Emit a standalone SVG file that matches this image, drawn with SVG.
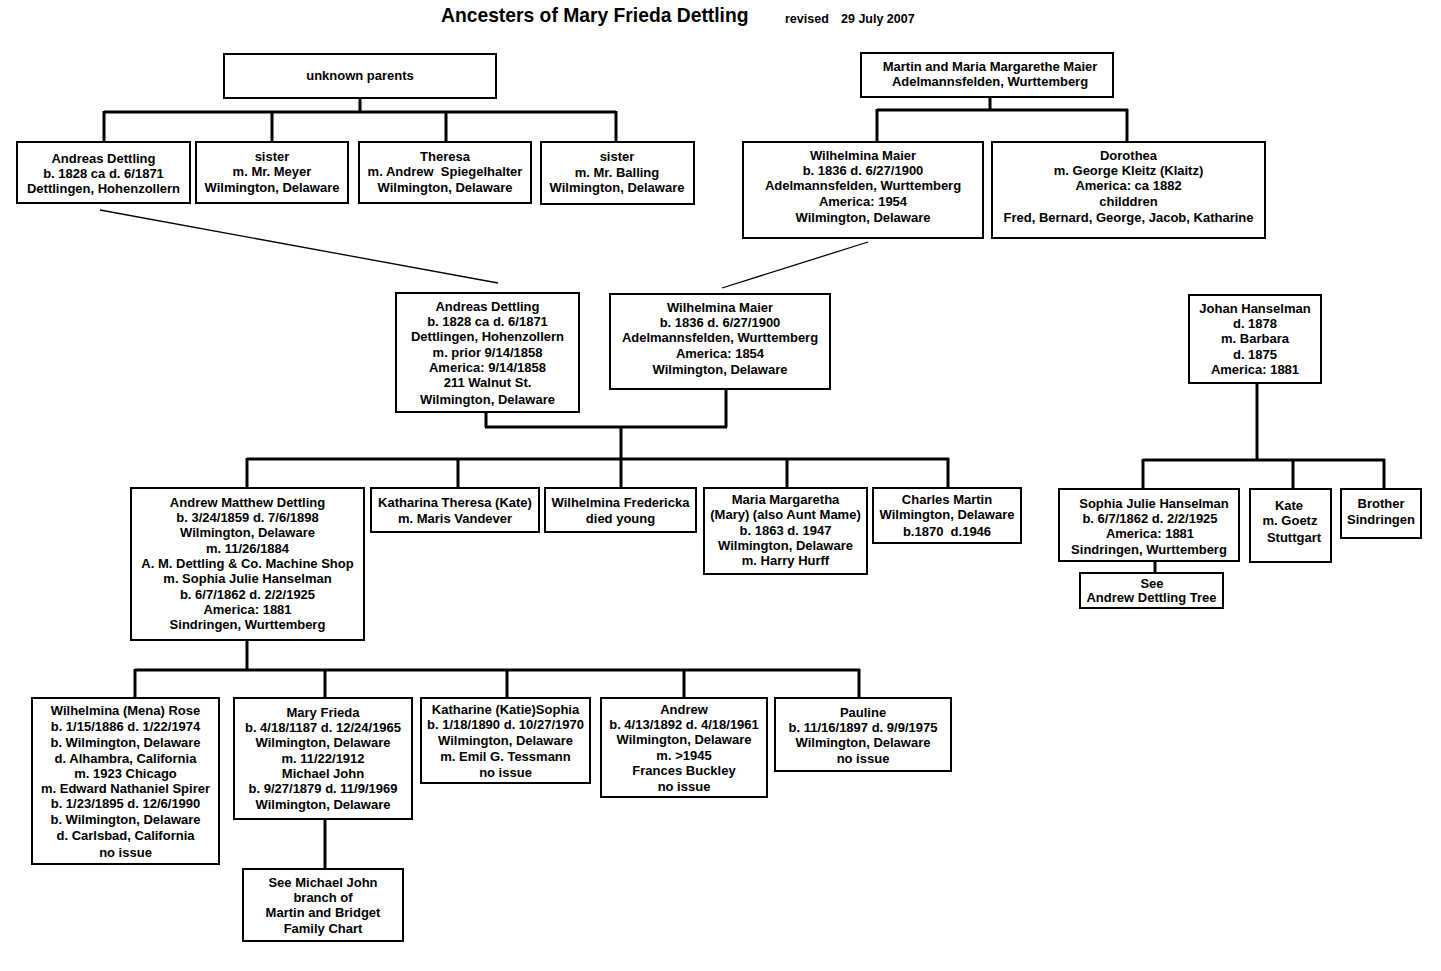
<svg xmlns="http://www.w3.org/2000/svg" width="1441" height="971" viewBox="0 0 1441 971">
<style>
.box{fill:#fff;stroke:#000;stroke-width:2}
.t{font-family:"Liberation Sans",Arial,sans-serif;font-weight:bold;font-size:13px;text-anchor:middle;fill:#000}
.c{fill:none;stroke:#000;stroke-width:3}
.d{fill:none;stroke:#000;stroke-width:1.3}
</style>
<defs>
<clipPath id="clipSophia"><rect x="1060" y="490" width="178" height="70"/></clipPath>
</defs>
<rect width="1441" height="971" fill="#fff"/>
<text x="441" y="22" style="font-family:'Liberation Sans',Arial,sans-serif;font-weight:bold;font-size:19.3px">Ancesters of Mary Frieda Dettling</text>
<text x="785" y="23" style="font-family:'Liberation Sans',Arial,sans-serif;font-weight:bold;font-size:12.5px">revised</text>
<text x="841" y="23" style="font-family:'Liberation Sans',Arial,sans-serif;font-weight:bold;font-size:12.5px">29 July 2007</text>

<g id="connectors">
<path class="c" d="M360 98V112M104 112H616M104 111V142M272 111V142M446 111V142M616 111V142"/>
<path class="c" d="M990 97V110M877 110H1128M877 109V142M1127 109V142"/>
<path class="d" d="M100 210L498 283"/>
<path class="d" d="M868 242L722 288"/>
<path class="c" d="M486 412V427M726 389V427M485 427H727M621 427V459M247 459H949M247 458V488M458 458V488M621 458V488M787 458V488M948 458V488"/>
<path class="c" d="M247 640V670M135 670H860M135 669V698M325 669V698M507 669V698M684 669V698M859 669V698"/>
<path class="c" d="M325 819V869"/>
<path class="c" d="M1257 383V460M1143 460H1385M1143 459V489M1293 459V489M1384 459V489"/>
<path class="c" d="M1155 561V573"/>
</g>

<g id="unknown-parents"><rect class="box" x="224" y="54" width="272" height="44"/><text class="t" x="360" y="80">unknown parents</text></g>
<g id="martin-maria"><rect class="box" x="861" y="53" width="252" height="44"/><text class="t" x="990" y="71">Martin and Maria Margarethe Maier</text><text class="t" x="990" y="86">Adelmannsfelden, Wurttemberg</text></g>

<g id="andreas-top"><rect class="box" x="17" y="142" width="173" height="61"/><text class="t" x="103.5" y="163">Andreas Dettling</text><text class="t" x="103.5" y="178">b. 1828 ca d. 6/1871</text><text class="t" x="103.5" y="193">Dettlingen, Hohenzollern</text></g>
<g id="sister-meyer"><rect class="box" x="196" y="142" width="152" height="61"/><text class="t" x="272" y="161">sister</text><text class="t" x="272" y="176">m. Mr. Meyer</text><text class="t" x="272" y="192">Wilmington, Delaware</text></g>
<g id="theresa"><rect class="box" x="359" y="142" width="172" height="61"/><text class="t" x="445" y="161">Theresa</text><text class="t" x="445" y="176" xml:space="preserve">m. Andrew  Spiegelhalter</text><text class="t" x="445" y="192">Wilmington, Delaware</text></g>
<g id="sister-balling"><rect class="box" x="541" y="142" width="153" height="62"/><text class="t" x="617" y="161">sister</text><text class="t" x="617" y="177">m. Mr. Balling</text><text class="t" x="617" y="192">Wilmington, Delaware</text></g>

<g id="wilhelmina-top"><rect class="box" x="743" y="142" width="240" height="96"/><text class="t" x="863" y="160">Wilhelmina Maier</text><text class="t" x="863" y="175">b. 1836 d. 6/27/1900</text><text class="t" x="863" y="190">Adelmannsfelden, Wurttemberg</text><text class="t" x="863" y="206">America: 1954</text><text class="t" x="863" y="222">Wilmington, Delaware</text></g>
<g id="dorothea"><rect class="box" x="992" y="142" width="273" height="96"/><text class="t" x="1128.5" y="160">Dorothea</text><text class="t" x="1128.5" y="175">m. George Kleitz (Klaitz)</text><text class="t" x="1128.5" y="190">America: ca 1882</text><text class="t" x="1128.5" y="206">childdren</text><text class="t" x="1128.5" y="222">Fred, Bernard, George, Jacob, Katharine</text></g>

<g id="andreas-mid"><rect class="box" x="396" y="293" width="183" height="119"/><text class="t" x="487.5" y="311">Andreas Dettling</text><text class="t" x="487.5" y="326">b. 1828 ca d. 6/1871</text><text class="t" x="487.5" y="341">Dettlingen, Hohenzollern</text><text class="t" x="487.5" y="357">m. prior 9/14/1858</text><text class="t" x="487.5" y="372">America: 9/14/1858</text><text class="t" x="487.5" y="387">211 Walnut St.</text><text class="t" x="487.5" y="404">Wilmington, Delaware</text></g>
<g id="wilhelmina-mid"><rect class="box" x="610" y="294" width="220" height="95"/><text class="t" x="720" y="312">Wilhelmina Maier</text><text class="t" x="720" y="327">b. 1836 d. 6/27/1900</text><text class="t" x="720" y="342">Adelmannsfelden, Wurttemberg</text><text class="t" x="720" y="358">America: 1854</text><text class="t" x="720" y="374">Wilmington, Delaware</text></g>

<g id="johan"><rect class="box" x="1189" y="295" width="132" height="88"/><text class="t" x="1255" y="313">Johan Hanselman</text><text class="t" x="1255" y="328">d. 1878</text><text class="t" x="1255" y="343">m. Barbara</text><text class="t" x="1255" y="359">d. 1875</text><text class="t" x="1255" y="374">America: 1881</text></g>

<g id="andrew-matthew"><rect class="box" x="131" y="488" width="233" height="152"/><text class="t" x="247.5" y="507">Andrew Matthew Dettling</text><text class="t" x="247.5" y="522">b. 3/24/1859 d. 7/6/1898</text><text class="t" x="247.5" y="537">Wilmington, Delaware</text><text class="t" x="247.5" y="553">m. 11/26/1884</text><text class="t" x="247.5" y="568">A. M. Dettling &amp; Co. Machine Shop</text><text class="t" x="247.5" y="583">m. Sophia Julie Hanselman</text><text class="t" x="247.5" y="599">b. 6/7/1862 d. 2/2/1925</text><text class="t" x="247.5" y="614">America: 1881</text><text class="t" x="247.5" y="629">Sindringen, Wurttemberg</text></g>
<g id="katharina-theresa"><rect class="box" x="371" y="488" width="168" height="44"/><text class="t" x="455" y="507">Katharina Theresa (Kate)</text><text class="t" x="455" y="523">m. Maris Vandever</text></g>
<g id="wilhelmina-fredericka"><rect class="box" x="545" y="488" width="151" height="44"/><text class="t" x="620.5" y="507">Wilhelmina Fredericka</text><text class="t" x="620.5" y="523">died young</text></g>
<g id="maria-margaretha"><rect class="box" x="704" y="488" width="163" height="86"/><text class="t" x="785.5" y="504">Maria Margaretha</text><text class="t" x="785.5" y="519">(Mary) (also Aunt Mame)</text><text class="t" x="785.5" y="535">b. 1863 d. 1947</text><text class="t" x="785.5" y="550">Wilmington, Delaware</text><text class="t" x="785.5" y="565">m. Harry Hurff</text></g>
<g id="charles-martin"><rect class="box" x="873" y="488" width="148" height="55"/><text class="t" x="947" y="504">Charles Martin</text><text class="t" x="947" y="519">Wilmington, Delaware</text><text class="t" x="947" y="536" xml:space="preserve">b.1870  d.1946</text></g>

<g id="sophia"><rect class="box" x="1059" y="489" width="180" height="72"/><g clip-path="url(#clipSophia)"><text class="t" x="1154" y="508">Sophia Julie Hanselman</text><text class="t" x="1150" y="523">b. 6/7/1862 d. 2/2/1925</text><text class="t" x="1150" y="538">America: 1881</text><text class="t" x="1149" y="554">Sindringen, Wurttemberg</text></g></g>
<g id="kate"><rect class="box" x="1250" y="489" width="81" height="73"/><text class="t" x="1289" y="510">Kate</text><text class="t" x="1290" y="525">m. Goetz</text><text class="t" x="1294" y="542">Stuttgart</text></g>
<g id="brother"><rect class="box" x="1341" y="489" width="80" height="49"/><text class="t" x="1381" y="508">Brother</text><text class="t" x="1381" y="524">Sindringen</text></g>
<g id="see-andrew"><rect class="box" x="1080" y="573" width="143" height="35"/><text class="t" x="1152" y="588">See</text><text class="t" x="1151.5" y="602">Andrew Dettling Tree</text></g>

<g id="wilhelmina-mena"><rect class="box" x="32" y="698" width="187" height="166"/><text class="t" x="125.5" y="715">Wilhelmina (Mena) Rose</text><text class="t" x="125.5" y="731">b. 1/15/1886 d. 1/22/1974</text><text class="t" x="125.5" y="747">b. Wilmington, Delaware</text><text class="t" x="125.5" y="763">d. Alhambra, California</text><text class="t" x="125.5" y="778">m. 1923 Chicago</text><text class="t" x="125.5" y="793">m. Edward Nathaniel Spirer</text><text class="t" x="125.5" y="808">b. 1/23/1895 d. 12/6/1990</text><text class="t" x="125.5" y="824">b. Wilmington, Delaware</text><text class="t" x="125.5" y="840">d. Carlsbad, California</text><text class="t" x="125.5" y="857">no issue</text></g>
<g id="mary-frieda"><rect class="box" x="234" y="698" width="178" height="121"/><text class="t" x="323" y="717">Mary Frieda</text><text class="t" x="323" y="732">b. 4/18/1187 d. 12/24/1965</text><text class="t" x="323" y="747">Wilmington, Delaware</text><text class="t" x="323" y="763">m. 11/22/1912</text><text class="t" x="323" y="778">Michael John</text><text class="t" x="323" y="793">b. 9/27/1879 d. 11/9/1969</text><text class="t" x="323" y="809">Wilmington, Delaware</text></g>
<g id="katharine-sophia"><rect class="box" x="421" y="698" width="169" height="85"/><text class="t" x="505.5" y="714">Katharine (Katie)Sophia</text><text class="t" x="505.5" y="729">b. 1/18/1890 d. 10/27/1970</text><text class="t" x="505.5" y="745">Wilmington, Delaware</text><text class="t" x="505.5" y="761">m. Emil G. Tessmann</text><text class="t" x="505.5" y="777">no issue</text></g>
<g id="andrew"><rect class="box" x="601" y="698" width="166" height="99"/><text class="t" x="684" y="714">Andrew</text><text class="t" x="684" y="729">b. 4/13/1892 d. 4/18/1961</text><text class="t" x="684" y="744">Wilmington, Delaware</text><text class="t" x="684" y="760">m. &gt;1945</text><text class="t" x="684" y="775">Frances Buckley</text><text class="t" x="684" y="791">no issue</text></g>
<g id="pauline"><rect class="box" x="775" y="698" width="176" height="73"/><text class="t" x="863" y="717">Pauline</text><text class="t" x="863" y="732">b. 11/16/1897 d. 9/9/1975</text><text class="t" x="863" y="747">Wilmington, Delaware</text><text class="t" x="863" y="763">no issue</text></g>
<g id="see-michael"><rect class="box" x="243" y="869" width="160" height="72"/><text class="t" x="323" y="887">See Michael John</text><text class="t" x="323" y="902">branch of</text><text class="t" x="323" y="917">Martin and Bridget</text><text class="t" x="323" y="933">Family Chart</text></g>
</svg>
